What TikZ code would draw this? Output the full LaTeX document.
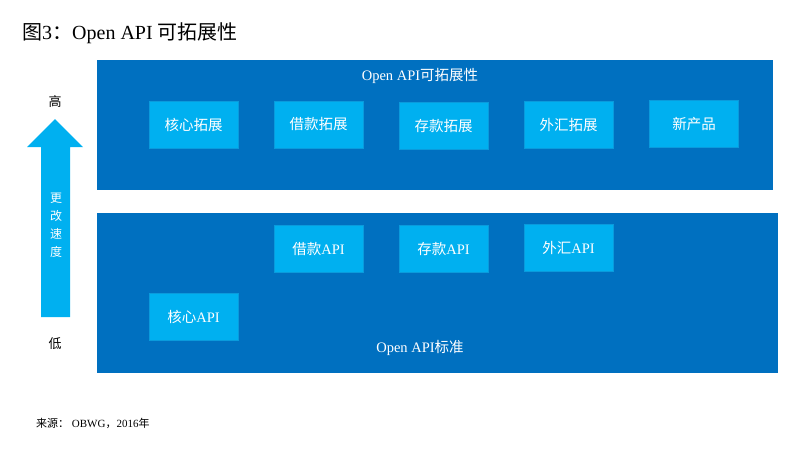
\documentclass[tikz,border=0pt]{standalone}
\usepackage{fontspec}
\setmainfont{Liberation Serif}
\newfontfamily\cjk{Noto Sans CJK SC}
\definecolor{panelblue}{HTML}{0070C0}
\definecolor{boxblue}{HTML}{00B0F0}
\definecolor{boxedge}{HTML}{0A9BDC}
\begin{document}
\begin{tikzpicture}[x=1pt,y=-1pt,
  panel/.style={fill=panelblue,draw=none,inner sep=0pt},
  itembox/.style={fill=boxblue,draw=boxedge,line width=0.8pt,inner sep=0pt,
    minimum width=89pt,minimum height=47pt,text=white,font=\cjk\fontsize{14.5}{16}\selectfont},
  plabel/.style={text=white,font=\fontsize{14.5}{16}\selectfont,inner sep=0pt},
  arrowfill/.style={fill=boxblue,draw=none}]
\useasboundingbox (0,0) rectangle (800,450);
% title
\node[anchor=west,inner sep=0pt,font=\fontsize{20}{22}\selectfont] (title) at (22,33) {{\cjk 图}3{\cjk ：}Open API {\cjk 可拓展性}};
% panels
\node[panel,minimum width=676pt,minimum height=130pt] (top) at (435,125) {};
\node[panel,minimum width=681pt,minimum height=160pt] (bot) at (437.5,293) {};
\node[plabel] (toplabel) at (420,76) {Open API{\cjk 可拓展性}};
\node[plabel] (botlabel) at (420,348) {Open API{\cjk 标准}};
% top boxes
\node[itembox] (b1) at (193.5,124.5) {核心拓展};
\node[itembox] (b2) at (318.5,124.5) {借款拓展};
\node[itembox] (b3) at (443.5,126) {存款拓展};
\node[itembox] (b4) at (568.5,125) {外汇拓展};
\node[itembox] (b5) at (694,124) {新产品};
% bottom boxes
\node[itembox] (a2) at (318.5,249) {借款{\rmfamily API}};
\node[itembox] (a3) at (443.5,249) {存款{\rmfamily API}};
\node[itembox] (a4) at (568.5,248) {外汇{\rmfamily API}};
\node[itembox] (a1) at (193.5,316.5) {核心{\rmfamily API}};
% arrow
\fill[arrowfill] (55,119) -- (83,147) -- (70,147) -- (70,317) -- (41,317) -- (41,147) -- (27,147) -- cycle;
\node[inner sep=0pt,font=\cjk\fontsize{13}{14}\selectfont] (hi) at (55,102) {高};
\node[inner sep=0pt,font=\cjk\fontsize{13}{14}\selectfont] (lo) at (55,344) {低};
\node[inner sep=0pt,text=white,font=\cjk\fontsize{12}{18}\selectfont,align=center] (speed) at (56,225) {更\\改\\速\\度};
% source
\node[anchor=west,inner sep=0pt,font=\fontsize{11}{12}\selectfont] (src) at (36,423) {{\cjk 来源：}\ OBWG{\cjk ，}2016{\cjk 年}};
\end{tikzpicture}
\end{document}
